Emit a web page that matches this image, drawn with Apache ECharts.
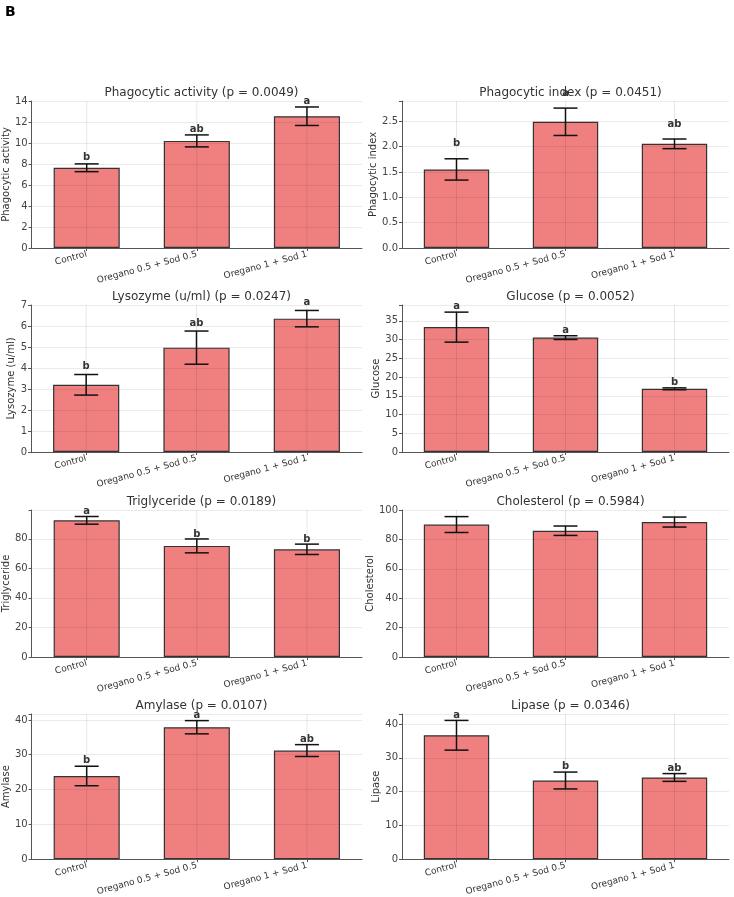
<!DOCTYPE html>
<html>
<head>
<meta charset="utf-8">
<script src="https://cdn.jsdelivr.net/npm/echarts@6/dist/echarts.min.js"></script>
<style>
  html, body { margin: 0; padding: 0; background: #fff; }
  #chart { width: 734px; height: 897px; }
</style>
</head>
<body>
<div id="chart"></div>
<script>
const categories = ['Control', 'Oregano 0.5 + Sod 0.5', 'Oregano 1 + Sod 1']
const titles = [
  'Phagocytic activity (p = 0.0049)',
  'Phagocytic index (p = 0.0451)',
  'Lysozyme (u/ml) (p = 0.0247)',
  'Glucose (p = 0.0052)',
  'Triglyceride (p = 0.0189)',
  'Cholesterol (p = 0.5984)',
  'Amylase (p = 0.0107)',
  'Lipase (p = 0.0346)',
]
const yNames = ['Phagocytic activity', 'Phagocytic index', 'Lysozyme (u/ml)', 'Glucose',
  'Triglyceride', 'Cholesterol', 'Amylase', 'Lipase']
const means = [
  [7.64, 10.2, 12.55],
  [1.55, 2.49, 2.055],
  [3.2, 4.97, 6.35],
  [33.3, 30.5, 16.85],
  [92.5, 75.2, 72.9],
  [90.1, 85.9, 91.8],
  [23.9, 37.9, 31.2],
  [36.7, 23.3, 24.2],
]
const errors = [
  [0.37, 0.57, 0.88],
  [0.21, 0.27, 0.095],
  [0.49, 0.79, 0.39],
  [4.0, 0.5, 0.25],
  [2.6, 4.7, 3.5],
  [5.4, 3.2, 3.4],
  [2.8, 1.9, 1.7],
  [4.4, 2.5, 1.15],
]
const letters = [
  ['b', 'ab', 'a'],
  ['b', 'a', 'ab'],
  ['b', 'ab', 'a'],
  ['a', 'a', 'b'],
  ['a', 'b', 'b'],
  ['', '', ''],
  ['b', 'a', 'ab'],
  ['a', 'b', 'ab'],
]
const yMax = [14, 2.9, 7, 39.2, 99.5, 100, 41.7, 43]
const yInterval = [2, 0.5, 1, 5, 20, 20, 10, 10]
const yDecimals = [0, 1, 0, 0, 0, 0, 0, 0]

// layout of the 2 x 4 panel grid
const colLeft = [31, 402]
const colWidth = [331, 327]
const rowTop = [101, 305, 510, 714]
const plotHeight = 147
const letterGap = [6, 15, 8, 5.5, 5, 5, 5.5, 5.5]

const FONT = 'DejaVu Sans'
const chart = echarts.init(document.getElementById('chart'))

const grid = [], xAxis = [], yAxis = [], series = []
const title = [{
  text: 'B', left: 0, top: 0,
  textStyle: { fontFamily: FONT, fontSize: 14, fontWeight: 'bold', color: '#000' },
}]

titles.forEach((t, i) => {
  const col = i % 2, row = Math.floor(i / 2)
  const left = colLeft[col], width = colWidth[col], top = rowTop[row]
  grid.push({ left, top, width, height: plotHeight })
  title.push({
    text: t,
    left: left + width / 2, top: top - 19,
    textAlign: 'center',
    textStyle: { fontFamily: FONT, fontSize: 12, fontWeight: 'normal', color: '#333' },
  })
  xAxis.push({
    type: 'category', gridIndex: i, data: categories, z: 5,
    axisLine: { lineStyle: { color: '#555', width: 1 } },
    axisTick: { show: true, alignWithLabel: true, length: 3, lineStyle: { color: '#555' } },
    axisLabel: { fontFamily: FONT, fontSize: 9, color: '#333', rotate: 15, interval: 0, margin: 6 },
    splitLine: { show: false },
  })
  const iv = yInterval[i], dec = yDecimals[i]
  yAxis.push({
    type: 'value', gridIndex: i, min: 0, max: yMax[i], interval: iv, z: 5,
    name: yNames[i], nameLocation: 'middle', nameGap: 14,
    nameTextStyle: { fontFamily: FONT, fontSize: 10, color: '#333' },
    axisLine: { show: true, lineStyle: { color: '#555', width: 1 } },
    axisTick: { show: true, length: 3, lineStyle: { color: '#555' } },
    axisLabel: {
      fontFamily: FONT, fontSize: 10, color: '#444', margin: 4,
      formatter: (v) => {
        const k = v / iv
        return Math.abs(k - Math.round(k)) < 1e-6 ? v.toFixed(dec) : ''
      },
    },
    splitLine: { show: true, lineStyle: { color: 'rgba(0,0,0,0.1)', width: 0.8 } },
  })
  series.push({
    type: 'bar', xAxisIndex: i, yAxisIndex: i, barWidth: '60%', z: 2,
    itemStyle: { color: '#F08080', borderColor: '#333', borderWidth: 1.2 },
    data: means[i],
    silent: true,
  })
  const errData = means[i].map((m, j) => [j, m, errors[i][j]])
  const gap = letterGap[i]
  const lets = letters[i]
  series.push({
    type: 'custom', xAxisIndex: i, yAxisIndex: i, z: 6, silent: true,
    data: errData,
    renderItem: (params, api) => {
      const x = api.value(0), m = api.value(1), e = api.value(2)
      const cs = params.coordSys
      const base = api.coord([x, 0])
      const hi = api.coord([x, m + e])
      const lo = api.coord([x, m - e])
      const cap = 12
      const children = [
        { type: 'line', shape: { x1: base[0], y1: cs.y, x2: base[0], y2: cs.y + cs.height },
          style: { stroke: 'rgba(0,0,0,0.12)', lineWidth: 0.8 } },
        { type: 'line', shape: { x1: hi[0], y1: hi[1], x2: lo[0], y2: lo[1] },
          style: { stroke: '#111', lineWidth: 1.5 } },
        { type: 'line', shape: { x1: hi[0] - cap, y1: hi[1], x2: hi[0] + cap, y2: hi[1] },
          style: { stroke: '#111', lineWidth: 1.5 } },
        { type: 'line', shape: { x1: lo[0] - cap, y1: lo[1], x2: lo[0] + cap, y2: lo[1] },
          style: { stroke: '#111', lineWidth: 1.5 } },
      ]
      const letter = lets[params.dataIndex]
      if (letter) {
        children.push({
          type: 'text',
          style: {
            text: letter, x: hi[0], y: hi[1] - gap,
            align: 'center', verticalAlign: 'middle',
            font: 'bold 10px "DejaVu Sans"', fill: '#333',
          },
        })
      }
      return { type: 'group', children }
    },
  })
})

chart.setOption({
  backgroundColor: '#fff',
  animation: false,
  title, grid, xAxis, yAxis, series,
})
</script>
</body>
</html>
